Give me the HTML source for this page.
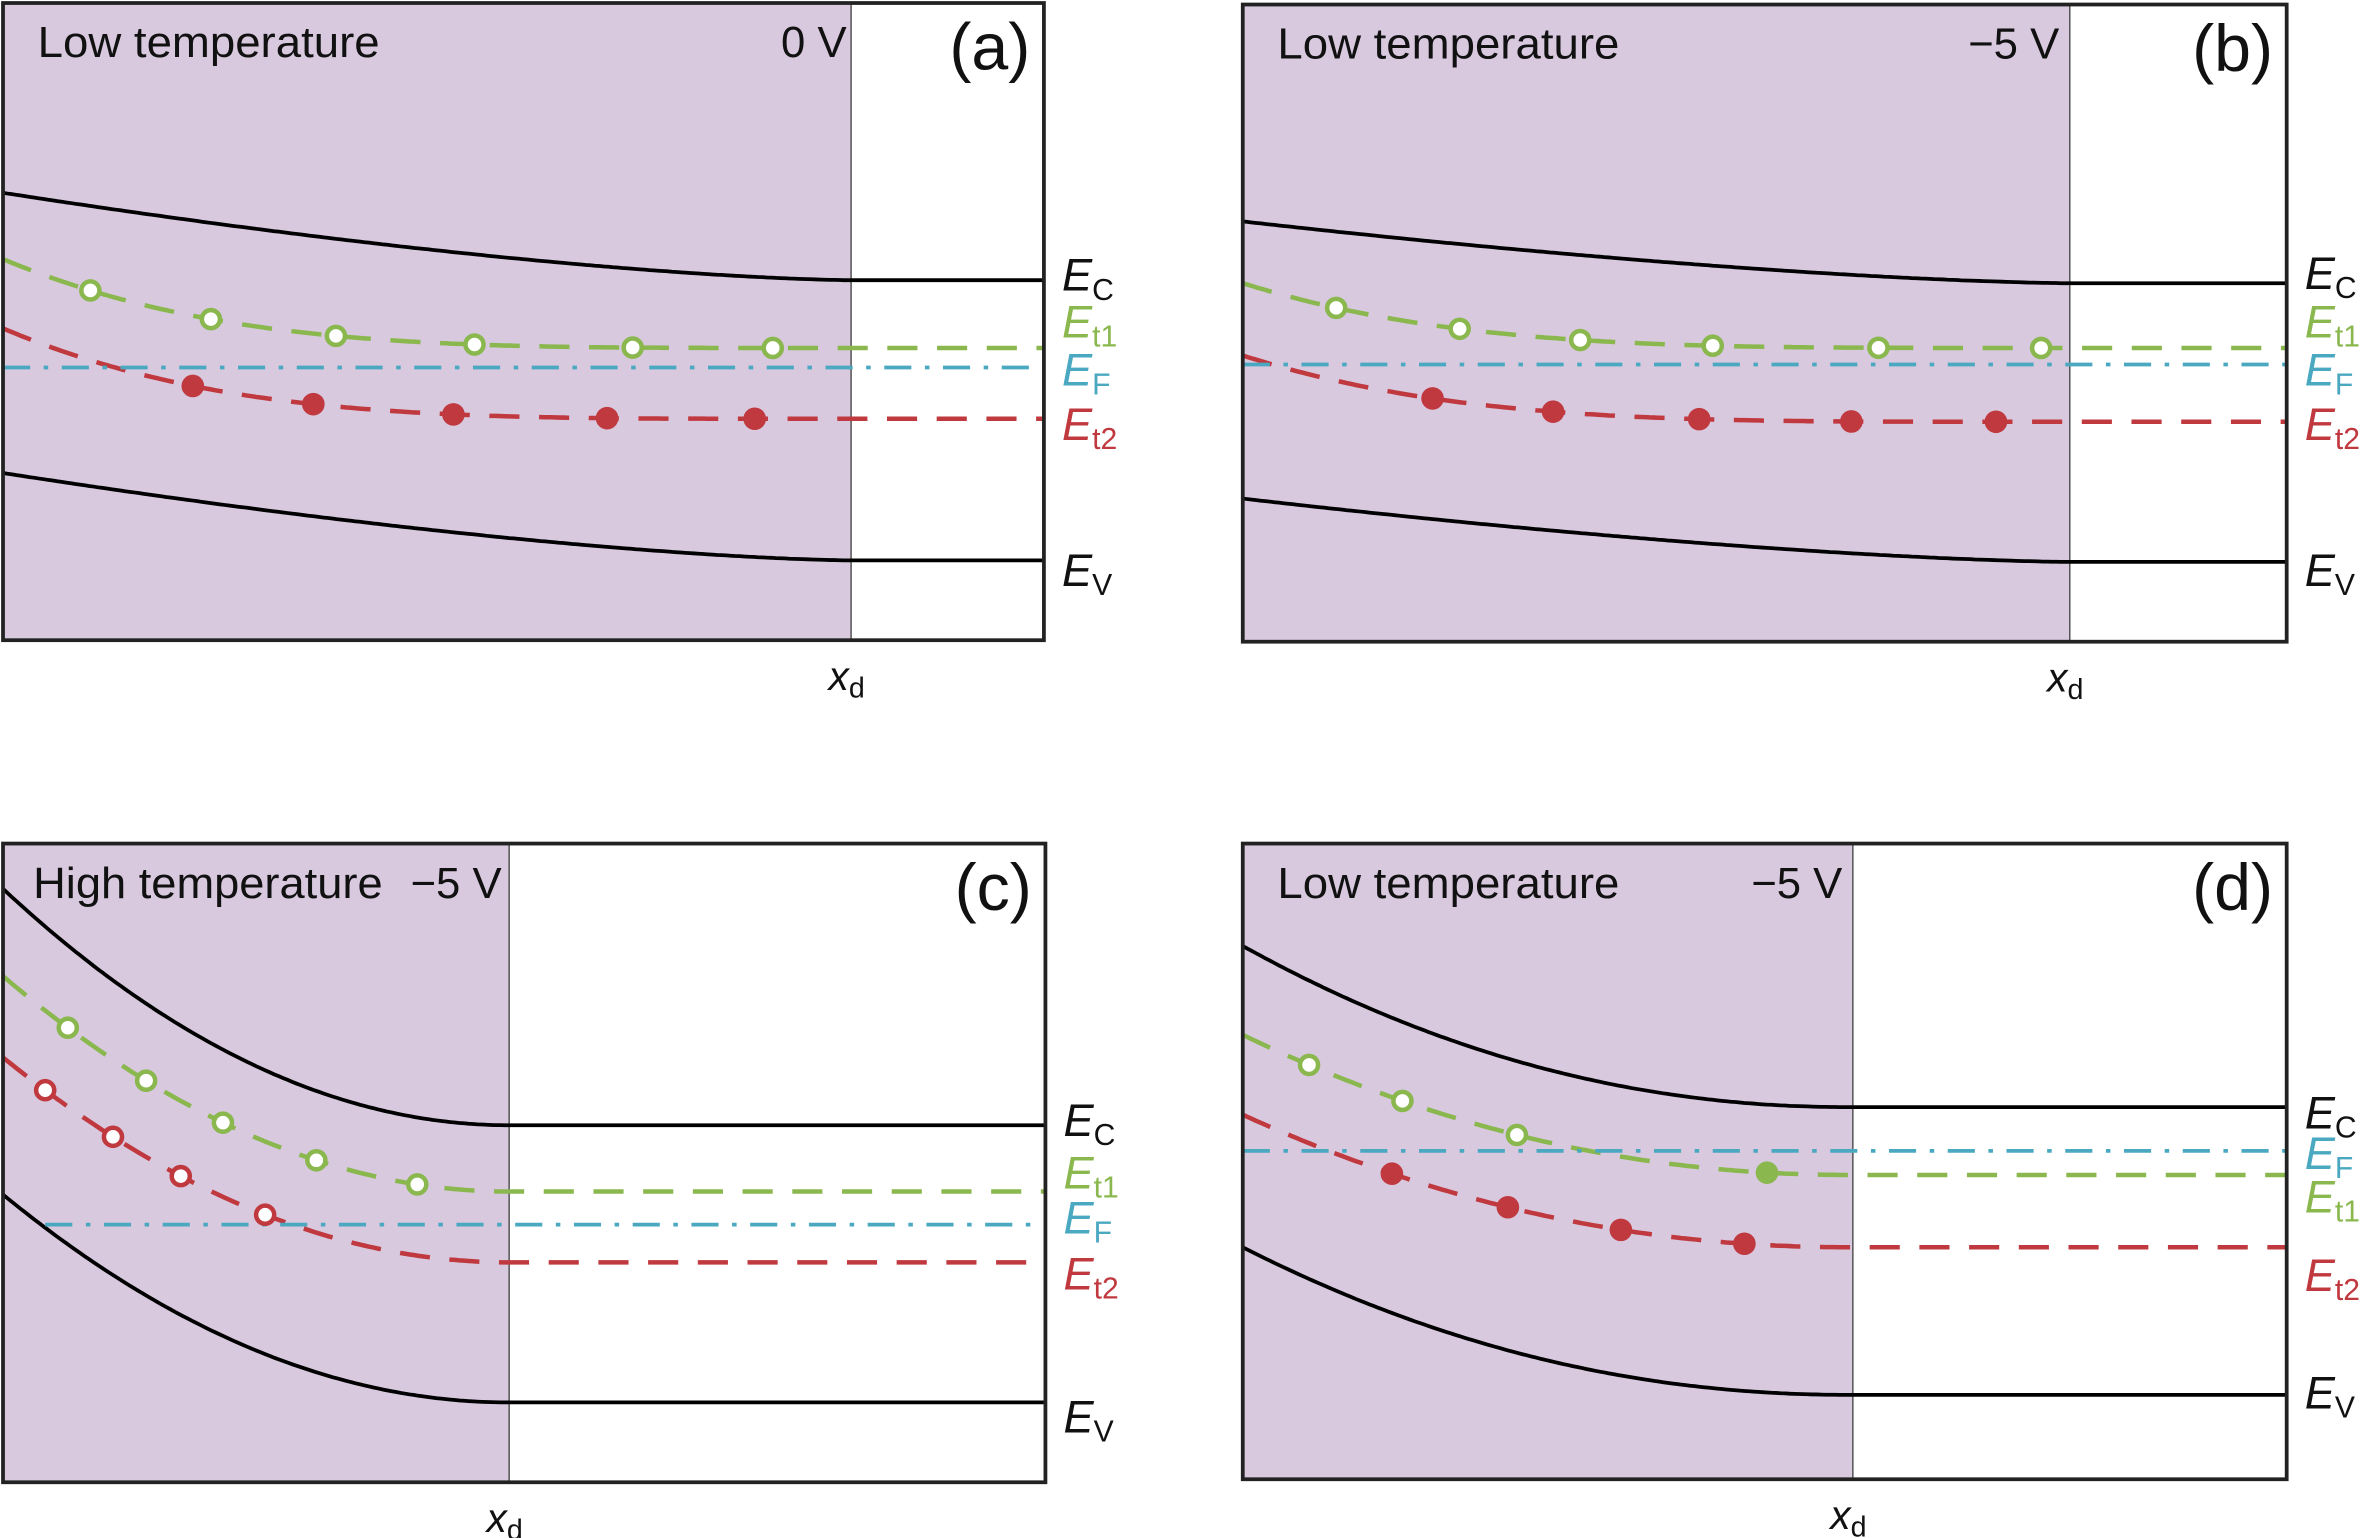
<!DOCTYPE html>
<html><head><meta charset="utf-8"><style>
html,body{margin:0;padding:0;background:#fff;}
svg{display:block;font-family:"Liberation Sans",Arial,sans-serif;}
</style></head><body>
<svg id="fig" width="2362" height="1538" viewBox="0 0 1568 1021" preserveAspectRatio="none" xmlns="http://www.w3.org/2000/svg"></svg>
<script>
// Panel data (reference units)
const panelIds = ['a','b','c','d'];
const panelTitles = ['Low temperature','Low temperature','High temperature','Low temperature'];
const panelVolts = ['0 V','\u22125 V','\u22125 V','\u22125 V'];
const boxLeft = [2,825,2,825];
const boxRight = [693,1518,694,1518];
const boxTop = [2,3,560,560];
const boxBottom = [425,426,984,982];
const xdPos = [565,1374,338,1230];
const voltX = [562,1367,333,1223];
const bandPower = [1.5,1.5,2,2.1];
const trapPower = [4,4,2,2.1];
// level start (at left edge) and bulk (flat) values
const ecStart = [128,147,590,628];   const ecEnd = [186,188,747,735];
const et1Start = [172,188,648,687];  const et1End = [231,231,791,780];
const efLevel = [244,242,813,764];   const efFrom = [2,825,30,825];
const et2Start = [218,236,702,740];  const et2End = [278,280,838,828];
const evStart = [314,331,793,828];   const evEnd = [372,373,931,926];
// trap dots: x positions and fill state
const greenDotsX = [[60,140,223,315,420,513],[887,969,1049,1137,1247,1355],[45,97,148,210,277],[869,931,1007,1173]];
const greenFilled = [[0,0,0,0,0,0],[0,0,0,0,0,0],[0,0,0,0,0],[0,0,0,1]];
const redDotsX = [[128,208,301,403,501],[951,1031,1128,1229,1325],[30,75,120,176],[924,1001,1076,1158]];
const redFilled = [[1,1,1,1,1],[1,1,1,1,1],[0,0,0,0],[1,1,1,1]];
// right labels: y positions in order Ec, Et1, EF, Et2, Ev
const labelY = [[183,214,246,282,379],[182,214,246,282,379],[744,779,809,846,941],[739,795,766,847,925]];

const GREEN='#8ab84e', RED='#c0393f', BLUE='#4aa8c0', PURPLE='#d8c9df';
const svg=document.getElementById('fig');
const NS='http://www.w3.org/2000/svg';
function mk(tag,attrs,parent){const e=document.createElementNS(NS,tag);for(const k in attrs)e.setAttribute(k,attrs[k]);(parent||svg).appendChild(e);return e;}
function bandY(x,i,ys,ye,p){const L=boxLeft[i],xd=xdPos[i];if(x>=xd)return ye;const t=(x-L)/(xd-L);const f=Math.pow(1-t,p);return ye-(ye-ys)*f;}
function bandPath(i,ys,ye,p){let d='';const L=boxLeft[i];for(let x=L;x<=xdPos[i];x+=3){d+=(d?'L':'M')+x.toFixed(1)+','+bandY(x,i,ys,ye,p).toFixed(1);}d+='L'+xdPos[i]+','+ye+'L'+boxRight[i]+','+ye;return d;}

for(let i=0;i<4;i++){
  const g=mk('g',{});
  
  
  const L=boxLeft[i],R=boxRight[i],T=boxTop[i],B=boxBottom[i];
  const dep=mk('rect',{x:L,y:T,width:xdPos[i]-L,height:B-T,fill:PURPLE},g);
  
  
  const xl=mk('line',{x1:xdPos[i],y1:T,x2:xdPos[i],y2:B,stroke:'#555',"stroke-width":1},g);
  
  
  const specs=[['ec-band',ecStart[i],ecEnd[i],'#000',null,bandPower[i]],['ev-band',evStart[i],evEnd[i],'#000',null,bandPower[i]],
    ['et1-level',et1Start[i],et1End[i],GREEN,'20,13',trapPower[i]],['et2-level',et2Start[i],et2End[i],RED,'20,13',trapPower[i]]];
  for(const s of specs){
    const p=mk('path',{d:bandPath(i,s[1],s[2],s[5]),fill:'none',stroke:s[3],"stroke-width":s[4]?3:2.5},g);
    if(s[4])p.setAttribute('stroke-dasharray',s[4]);
    
    
  }
  const ef=mk('line',{x1:efFrom[i],y1:efLevel[i],x2:R,y2:efLevel[i],stroke:BLUE,"stroke-width":2.5,"stroke-dasharray":'18,9,3,9'},g);
  
  
  greenDotsX[i].forEach((x,k)=>{
    const c=mk('circle',{cx:x,cy:bandY(x,i,et1Start[i],et1End[i],trapPower[i]),r:6,fill:greenFilled[i][k]?GREEN:'#fff',stroke:GREEN,"stroke-width":3},g);
    
    
  });
  redDotsX[i].forEach((x,k)=>{
    const c=mk('circle',{cx:x,cy:bandY(x,i,et2Start[i],et2End[i],trapPower[i]),r:6,fill:redFilled[i][k]?RED:'#fff',stroke:RED,"stroke-width":3},g);
    
    
  });
  const box=mk('rect',{x:L,y:T,width:R-L,height:B-T,fill:'none',stroke:'#222',"stroke-width":2.5},g);
  
  
  const tt=mk('text',{x:L+(i==2?20:23),y:T+36,"font-size":29,fill:'#111',"textLength":(i==2?232:227),"lengthAdjust":'spacingAndGlyphs'},g);
  tt.textContent=panelTitles[i];
  
  
  const vt=mk('text',{x:voltX[i],y:T+36,"font-size":29,fill:'#111',"text-anchor":'end'},g);
  vt.textContent=panelVolts[i];
  
  
  const pl=mk('text',{x:R-9,y:T+44,"font-size":44,fill:'#111',"text-anchor":'end'},g);
  pl.textContent='('+panelIds[i]+')';
  
  
  const xd=mk('text',{x:xdPos[i]-15,y:B+33,"font-size":27,fill:'#111'},g);
  xd.innerHTML='<tspan font-style="italic">x</tspan><tspan font-size="19" dy="5">d</tspan>';
  
  
  const labs=[['C','#111','ec-label'],['t1',GREEN,'et1-label'],['F',BLUE,'ef-label'],['t2',RED,'et2-label'],['V','#111','ev-label']];
  labs.forEach((lb,k)=>{
    const t=mk('text',{x:R+12,y:labelY[i][k]+10,"font-size":30,fill:lb[1]},g);
    t.innerHTML='<tspan font-style="italic">E</tspan><tspan font-size="20" dy="6">'+lb[0]+'</tspan>';
    
    
  });
}
</script>
</body></html>
